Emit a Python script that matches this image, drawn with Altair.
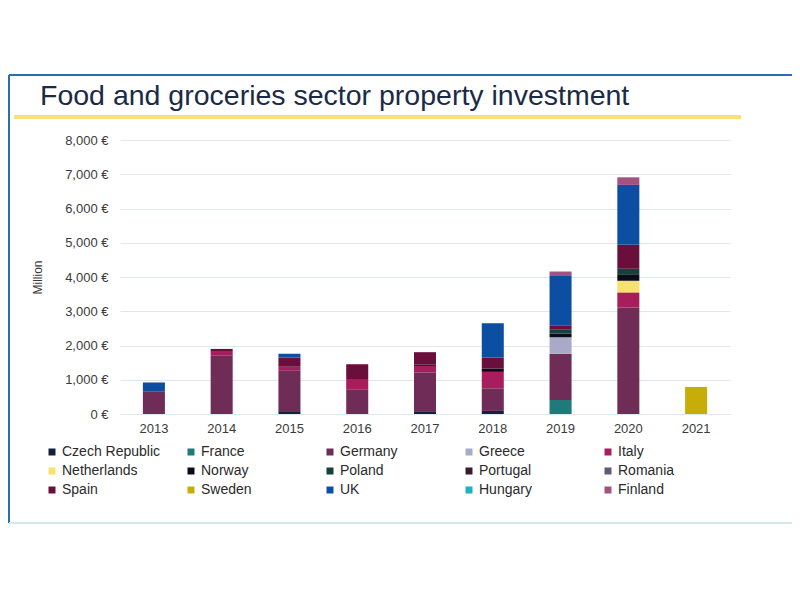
import altair as alt
import pandas as pd

years = ["2013", "2014", "2015", "2016", "2017", "2018", "2019", "2020", "2021"]
countries = ["Czech Republic", "France", "Germany", "Greece", "Italy",
             "Netherlands", "Norway", "Poland", "Portugal", "Romania",
             "Spain", "Sweden", "UK", "Hungary", "Finland"]
colors = ["#14213d", "#1f7a7a", "#6e2c56", "#a9aac7", "#a81d5c",
          "#f7e36b", "#0b0c17", "#16403b", "#3b1a2b", "#5f5b72",
          "#6a0f3b", "#c8ad08", "#0c4ea2", "#1fb0c4", "#a4527f"]

# values in EUR million, by year 2013..2021
czech_republic = [0, 0, 60, 0, 60, 90, 0, 0, 0]
france = [0, 0, 0, 0, 0, 0, 410, 0, 0]
germany = [650, 1700, 1220, 720, 1155, 660, 1350, 3110, 0]
greece = [0, 0, 0, 0, 0, 0, 480, 0, 0]
italy = [0, 140, 100, 300, 190, 480, 0, 440, 0]
netherlands = [0, 0, 0, 0, 0, 0, 0, 340, 0]
norway = [0, 0, 0, 0, 40, 100, 110, 190, 0]
poland = [0, 0, 0, 0, 0, 0, 110, 160, 0]
portugal = [0, 0, 0, 0, 0, 0, 0, 0, 0]
romania = [0, 0, 0, 0, 0, 0, 0, 0, 0]
spain = [0, 60, 270, 430, 360, 320, 120, 700, 0]
sweden = [0, 0, 0, 0, 0, 0, 0, 0, 790]
uk = [270, 0, 110, 0, 0, 1000, 1470, 1750, 0]
hungary = [0, 0, 0, 0, 0, 0, 0, 0, 0]
finland = [0, 0, 0, 0, 0, 0, 110, 220, 0]

series = [czech_republic, france, germany, greece, italy, netherlands, norway,
          poland, portugal, romania, spain, sweden, uk, hungary, finland]

rows = []
for ci, (c, vals) in enumerate(zip(countries, series)):
    for y, v in zip(years, vals):
        rows.append({"Year": y, "Country": c, "Value": v, "idx": ci})
df = pd.DataFrame(rows)

FONT = "Liberation Sans"
W, H = 610, 274

bars = alt.Chart(df).mark_bar(strokeWidth=0).encode(
    x=alt.X("Year:N", sort=years, title=None,
            scale=alt.Scale(paddingInner=0.675, paddingOuter=0.3375),
            axis=alt.Axis(labelAngle=0, ticks=False, domain=False, grid=False,
                          labelFontSize=13, labelColor="#3a3a3a", labelFont=FONT,
                          labelPadding=8)),
    y=alt.Y("sum(Value):Q", title="Million", stack="zero",
            scale=alt.Scale(domain=[0, 8000]),
            axis=alt.Axis(values=list(range(0, 8001, 1000)), ticks=False, domain=False,
                          labelExpr="format(datum.value, ',') + ' €'",
                          labelFontSize=13, labelColor="#3a3a3a", labelFont=FONT,
                          labelPadding=12, gridColor="#dce9f1", gridWidth=1,
                          titleFontSize=12, titleFont=FONT, titleColor="#3a3a3a",
                          titleFontWeight="normal", titleX=-76, titleY=137)),
    color=alt.Color("Country:N", sort=countries,
                    scale=alt.Scale(domain=countries, range=colors),
                    legend=alt.Legend(title=None, orient="none", legendX=-75, legendY=305,
                                      direction="horizontal",
                                      columns=5, gridAlign="all", columnPadding=23,
                                      rowPadding=5, symbolType="square", symbolSize=49,
                                      symbolStrokeWidth=0, labelFontSize=14,
                                      labelFont=FONT, labelColor="#2a2a2a",
                                      labelOffset=3, values=countries)),
    order=alt.Order("idx:Q", sort="ascending"),
)

yellow = alt.Chart(df).mark_rule(color="#f6e27a", strokeWidth=3).encode(
    x=alt.value(-106), x2=alt.value(621), y=alt.value(-23))
top_border = alt.Chart(df).mark_rule(color="#2a6fae", strokeWidth=1.2).encode(
    x=alt.value(-111), x2=alt.value(700), y=alt.value(-65))
left_border = alt.Chart(df).mark_rule(color="#2a6fae", strokeWidth=1.2).encode(
    x=alt.value(-111), y=alt.value(-65), y2=alt.value(383))
bottom_border = alt.Chart(df).mark_rule(color="#d3e6f0", strokeWidth=1).encode(
    x=alt.value(-111), x2=alt.value(700), y=alt.value(383))

chart = alt.layer(bars, yellow, top_border, left_border, bottom_border).properties(
    width=W, height=H,
    title=alt.TitleParams("Food and groceries sector property investment",
                          anchor="start", frame="group", dx=-80, dy=89, fontSize=28.5,
                          font=FONT, fontWeight="normal", color="#1b2a47",
                          baseline="alphabetic", offset=30),
    autosize=alt.AutoSizeParams(type="none"),
    padding={"left": 112, "top": 132, "right": 62, "bottom": 178},
).configure_view(stroke=None)

chart.save("out.html", embed_options={"renderer": "svg", "actions": False})
